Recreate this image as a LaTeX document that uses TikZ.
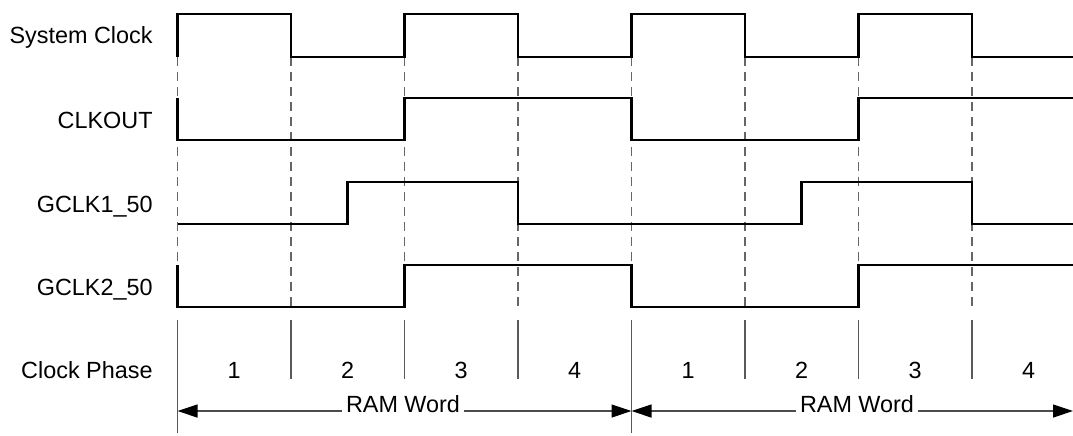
\documentclass[tikz,border=0pt]{standalone}
\usepackage{fontspec}
\setmainfont{Liberation Sans}
\usetikzlibrary{arrows.meta}

\tikzset{
  wave/.style={black, line width=1.4pt, line join=miter},
  guide/.style={gray!80!black, line width=0.7pt, dash pattern=on 4.5pt off 3pt},
  phaseline/.style={gray!70!black, line width=0.6pt},
  siglabel/.style={anchor=base east, inner sep=0pt},
  wordarrow/.style={gray!60!black, line width=0.6pt,
    >={Triangle[length=10pt,width=6.5pt,color=black,fill=black]}, <->}
}

\begin{document}
\begin{tikzpicture}[x=0.5pt, y=-0.5pt, font=\fontsize{11.7}{14}\selectfont]
    \useasboundingbox (0,0) rectangle (1073,435);

    % 信号名称
    \node[siglabel] (lsys) at (153,43)  {System Clock};
    \node[siglabel] (lclk) at (153,128) {CLKOUT};
    \node[siglabel] (lg1)  at (153,212) {GCLK1\_50};
    \node[siglabel] (lg2)  at (153,295) {GCLK2\_50};
    \node[siglabel] (lph)  at (153,378) {Clock Phase};

    % 1. 时钟沿处的虚线 (间距 113.5)
    \foreach \k in {0,...,7} {
        \draw[guide] ({177.5+113.5*\k},57) -- ({177.5+113.5*\k},307);
    }

    % 2. 波形
    \draw[wave] (177.5,57) -- (177.5,14) -- (291,14) -- (291,57) -- (404.5,57)
        -- (404.5,14) -- (518,14) -- (518,57) -- (631.5,57) -- (631.5,14)
        -- (745,14) -- (745,57) -- (858.5,57) -- (858.5,14) -- (972,14)
        -- (972,57) -- (1073,57);
    \draw[wave] (177.5,98) -- (177.5,140) -- (404.5,140) -- (404.5,98)
        -- (631.5,98) -- (631.5,140) -- (858.5,140) -- (858.5,98) -- (1073,98);
    \draw[wave] (177.5,224) -- (347.75,224) -- (347.75,182) -- (518,182)
        -- (518,224) -- (801.75,224) -- (801.75,182) -- (972,182)
        -- (972,224) -- (1073,224);
    \draw[wave] (177.5,265) -- (177.5,307) -- (404.5,307) -- (404.5,265)
        -- (631.5,265) -- (631.5,307) -- (858.5,307) -- (858.5,265) -- (1073,265);

    % 3. 时钟相位
    \foreach \k/\p in {0/1, 1/2, 2/3, 3/4, 4/1, 5/2, 6/3, 7/4} {
        \draw[phaseline] ({177.5+113.5*\k},320) -- ({177.5+113.5*\k},379);
        \node[anchor=base, inner sep=0pt] (ph\k) at ({234.25+113.5*\k},378) {\p};
    }
    \draw[phaseline] (177.5,379) -- (177.5,433);
    \draw[phaseline] (631.5,379) -- (631.5,433);

    % 4. RAM Word 区间
    \coordinate (w0) at (177.5,411);
    \coordinate (w1) at (631.5,411);
    \coordinate (w2) at (1073,411);
    \draw[wordarrow] (w0) -- (w1);
    \draw[wordarrow] (w1) -- (w2);
    \node[anchor=base, fill=white, inner xsep=2pt, inner ysep=1pt] (ram1) at (403,412) {RAM Word};
    \node[anchor=base, fill=white, inner xsep=2pt, inner ysep=1pt] (ram2) at (857,412) {RAM Word};

\end{tikzpicture}
\end{document}
